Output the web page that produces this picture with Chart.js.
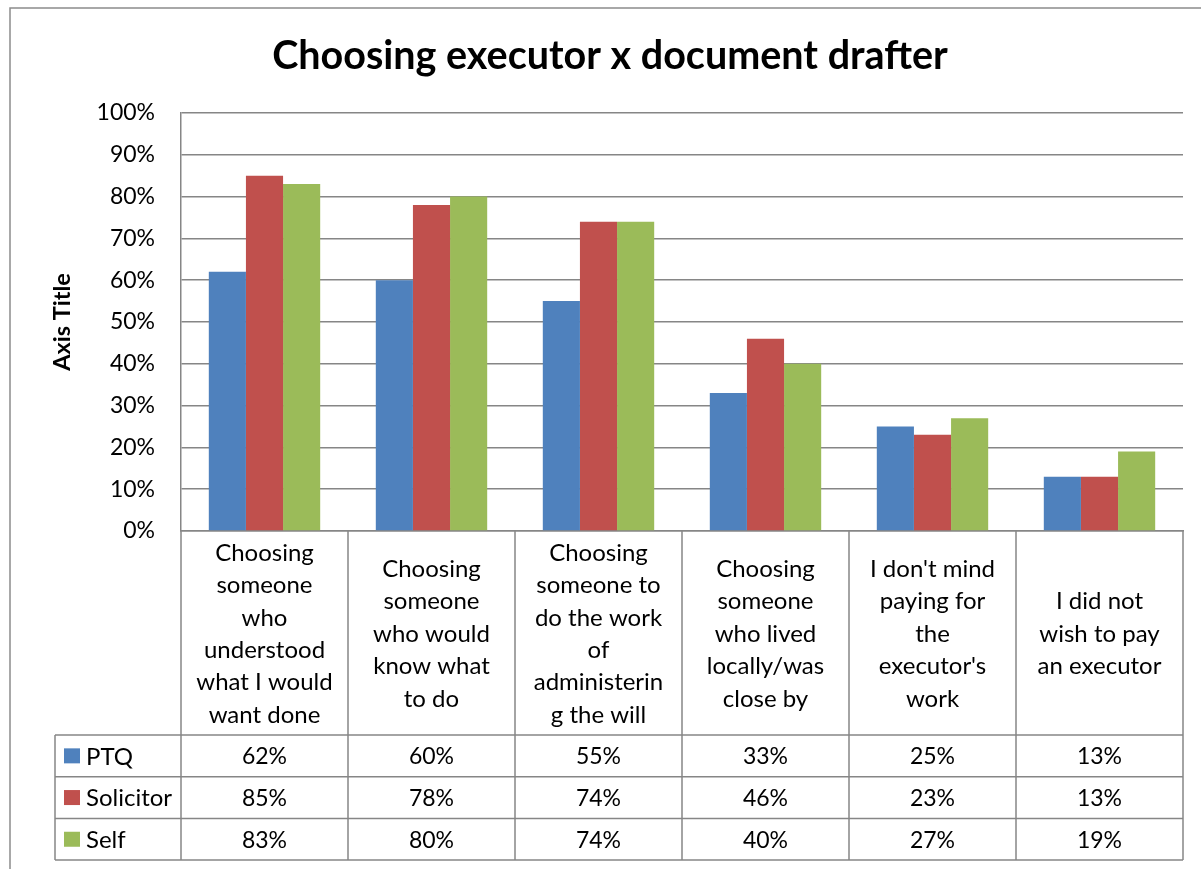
<!DOCTYPE html>
<html>
<head>
<meta charset="utf-8">
<script src="https://cdn.jsdelivr.net/npm/chart.js@4/dist/chart.umd.min.js"></script>
<style>
  html, body { margin: 0; padding: 0; background: #ffffff; }
  canvas { display: block; }
</style>
</head>
<body>
<canvas id="chart" width="1201" height="869"></canvas>
<script>
// Category labels, already broken into the lines shown in the table header
const categories = [
  ["Choosing", "someone", "who", "understood", "what I would", "want done"],
  ["Choosing", "someone", "who would", "know what", "to do"],
  ["Choosing", "someone to", "do the work", "of", "administerin", "g the will"],
  ["Choosing", "someone", "who lived", "locally/was", "close by"],
  ["I don't mind", "paying for", "the", "executor's", "work"],
  ["I did not", "wish to pay", "an executor"]
];
const seriesNames = ["PTQ", "Solicitor", "Self"];
const ptqValues = [62, 60, 55, 33, 25, 13];
const solicitorValues = [85, 78, 74, 46, 23, 13];
const selfValues = [83, 80, 74, 40, 27, 19];
const yTickValues = [0, 10, 20, 30, 40, 50, 60, 70, 80, 90, 100];

const seriesColors = ["#4F81BD", "#C0504D", "#9BBB59"];
const seriesValues = [ptqValues, solicitorValues, selfValues];
const lineColor = "#868686";
const fontFamily = "Lato, 'Open Sans', sans-serif";

// Frame around the whole chart
const framePlugin = {
  id: "frame",
  beforeDraw(chart) {
    const ctx = chart.ctx;
    ctx.save();
    ctx.fillStyle = "#ffffff";
    ctx.fillRect(0, 0, chart.width, chart.height);
    ctx.strokeStyle = "#8c8c8c";
    ctx.lineWidth = 1.5;
    ctx.beginPath();
    ctx.moveTo(10, chart.height + 2);
    ctx.lineTo(10, 8);
    ctx.lineTo(chart.width + 2, 8);
    ctx.stroke();
    ctx.restore();
  }
};

// Data table under the plot: category header row, then one row per series with a legend key
const dataTablePlugin = {
  id: "dataTable",
  afterDraw(chart) {
    const ctx = chart.ctx;
    const xs = chart.scales.x;
    const area = chart.chartArea;
    const n = categories.length;
    const step = xs.getPixelForValue(1) - xs.getPixelForValue(0);
    const bounds = [];
    for (let i = 0; i <= n; i++) bounds.push(xs.getPixelForValue(0) - step / 2 + i * step);

    const headTop = area.bottom;
    const headBottom = 735;
    const rowH = 41.7;
    const tableLeft = 55;
    const tableBottom = headBottom + rowH * seriesNames.length;

    ctx.save();
    ctx.strokeStyle = lineColor;
    ctx.lineWidth = 1.5;
    ctx.beginPath();
    // vertical rules
    bounds.forEach(b => { ctx.moveTo(b, headTop); ctx.lineTo(b, tableBottom); });
    ctx.moveTo(tableLeft, headBottom); ctx.lineTo(tableLeft, tableBottom);
    // horizontal rules
    for (let r = 0; r <= seriesNames.length; r++) {
      const y = headBottom + r * rowH;
      ctx.moveTo(tableLeft, y); ctx.lineTo(bounds[n], y);
    }
    ctx.stroke();

    ctx.fillStyle = "#000000";
    ctx.font = "24px " + fontFamily;
    ctx.textAlign = "center";
    ctx.textBaseline = "middle";

    // header: wrapped category names
    const lineH = 32.4;
    const headMid = (headTop + headBottom) / 2;
    categories.forEach((lines, i) => {
      const cx = (bounds[i] + bounds[i + 1]) / 2;
      const y0 = headMid - (lines.length - 1) * lineH / 2;
      lines.forEach((t, k) => ctx.fillText(t, cx, y0 + k * lineH + 1));
    });

    // series rows
    seriesNames.forEach((name, r) => {
      const cy = headBottom + r * rowH + rowH / 2;
      ctx.fillStyle = seriesColors[r];
      ctx.fillRect(64, cy - 7.5, 16, 15);
      ctx.fillStyle = "#000000";
      ctx.font = "24px " + fontFamily;
      ctx.textAlign = "left";
      ctx.fillText(name, 86, cy + 1);
      ctx.font = "23px " + fontFamily;
      ctx.textAlign = "center";
      seriesValues[r].forEach((v, i) => {
        ctx.fillText(v + "%", (bounds[i] + bounds[i + 1]) / 2, cy + 1);
      });
    });
    ctx.restore();
  }
};

const chart = new Chart(document.getElementById("chart"), {
  type: "bar",
  data: {
    labels: categories.map(c => c.join(" ")),
    datasets: seriesNames.map((name, i) => ({
      label: name,
      data: seriesValues[i],
      backgroundColor: seriesColors[i],
      borderWidth: 0,
      categoryPercentage: 0.667,
      barPercentage: 1.0
    }))
  },
  options: {
    responsive: false,
    animation: false,
    events: [],
    layout: { padding: { left: 37, top: 0, right: 18, bottom: 338 } },
    plugins: {
      legend: { display: false },
      tooltip: { enabled: false },
      title: {
        display: true,
        text: "Choosing executor x document drafter",
        color: "#000000",
        font: { family: fontFamily, size: 39.5, weight: "bold", lineHeight: 1.2 },
        padding: { top: 33, bottom: 32.6 }
      }
    },
    scales: {
      x: {
        grid: { display: false },
        border: { display: true, color: lineColor, width: 1.5 },
        ticks: { display: false },
        afterFit(scale) { scale.height = 0; }
      },
      y: {
        min: 0,
        max: 100,
        afterBuildTicks(scale) { scale.ticks = yTickValues.map(v => ({ value: v })); },
        ticks: {
          callback: v => v + "%",
          color: "#000000",
          padding: 26,
          font: { family: fontFamily, size: 23 }
        },
        grid: { color: lineColor, lineWidth: 1.5, drawTicks: false },
        border: { display: true, color: lineColor, width: 1.5 },
        title: {
          display: true,
          text: "Axis Title",
          color: "#000000",
          font: { family: fontFamily, size: 23.5, weight: "bold", lineHeight: 1.2 },
          padding: { top: 11, bottom: 0 }
        },
        afterFit(scale) { scale.width = 144; }
      }
    }
  },
  plugins: [framePlugin, dataTablePlugin]
});
</script>
</body>
</html>
